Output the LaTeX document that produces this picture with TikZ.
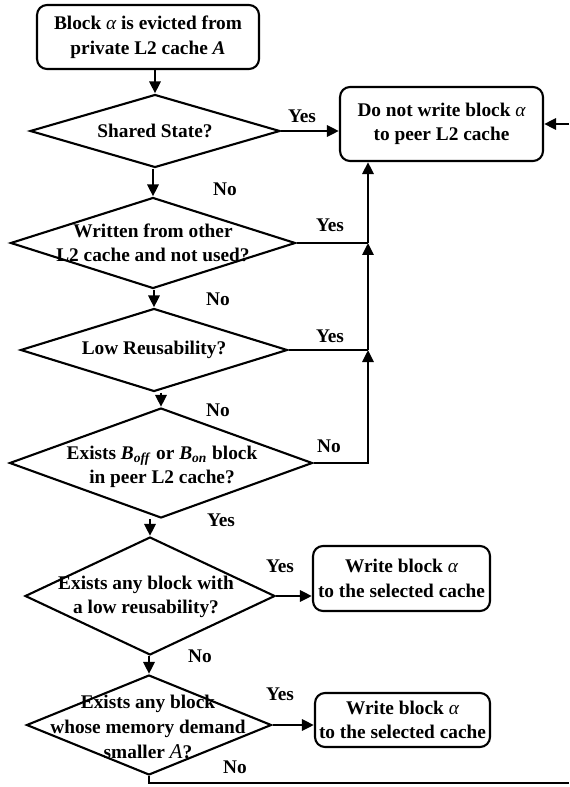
\documentclass[tikz,border=0pt]{standalone}
\usepackage{fontspec}
\setmainfont{Liberation Serif}
\usetikzlibrary{shapes.geometric,arrows.meta}

\newcommand\figfont{\fontsize{11}{14}\selectfont\bfseries}
\newcommand\blk{{\mdseries\itshape α}}

\tikzset{process/.style={draw,rounded corners=0.2cm,line width=1.2pt,font=\figfont,align=center,inner sep=0.05cm},
decision/.style={draw,diamond,line width=1.2pt,inner sep=0cm},
question/.style={font=\figfont,align=center,inner sep=0.03cm},
branch/.style={font=\figfont,inner sep=0.03cm},
flow/.style={line width=1.6pt,-{Triangle[length=0.24cm,width=0.22cm]}},
plain/.style={line width=1.6pt}}

\begin{document}
\begin{tikzpicture}[x=0.02cm,y=-0.02cm]
\useasboundingbox (0,0) rectangle (569,787);

%% Coordinates of bus and edge points.
\coordinate (j2) at (368,243);
\coordinate (j3) at (368,350);
\coordinate (j4) at (368,463);
\coordinate (inR) at (569,124);
\coordinate (outR) at (569,783);

%% boxes
\node [process,minimum width=4.44cm,minimum height=1.28cm] (start) at (148,37) {Block \blk{} is evicted from\\private L2 cache \textit{A}};
\node [process,minimum width=4.06cm,minimum height=1.48cm] (keep) at (441.5,124) {Do not write block \blk\\to peer L2 cache};
\node [process,minimum width=3.54cm,minimum height=1.3cm] (write1) at (401.5,578.5) {Write block \blk\\to the selected cache};
\node [process,minimum width=3.5cm,minimum height=1.08cm] (write2) at (402.5,720) {Write block \blk\\to the selected cache};

%% decisions
\node [decision,minimum width=5cm,minimum height=1.46cm] (d1) at (155,131) {};
\node [decision,minimum width=5.7cm,minimum height=1.82cm] (d2) at (153,243) {};
\node [decision,minimum width=5.34cm,minimum height=1.66cm] (d3) at (154,350) {};
\node [decision,minimum width=6.06cm,minimum height=2.2cm] (d4) at (161,463) {};
\node [decision,minimum width=5cm,minimum height=2.36cm] (d5) at (150,596) {};
\node [decision,minimum width=4.9cm,minimum height=2cm] (d6) at (149,725) {};

%% decision texts
\node [question] (q1) at (d1) {Shared State?};
\node [question] (q2) at (d2) {Written from other\\L2 cache and not used?};
\node [question] (q3) at (d3) {Low Reusability?};
\node [question] (q4) at (162,467) {Exists \textit{B}\textsubscript{\textit{off}} or \textit{B}\textsubscript{\textit{on}} block\\in peer L2 cache?};
\node [question] (q5) at (146,597) {Exists any block with\\a low reusability?};
\node [question] (q6) at (148,727) {Exists any block\\whose memory demand\\smaller {\large\mdseries\itshape A}?};

%% vertical lines
\draw [flow] (d1.north |- start.south) -- (d1.north);
\draw [flow] (d2.north |- d1.south) -- (d2.north);
\draw [flow] (d3.north |- d2.south) -- (d3.north);
\draw [flow] (d4.north |- d3.south) -- (d4.north);
\draw [flow] (d5.north |- d4.south) -- (d5.north);
\draw [flow] (d6.north |- d5.south) -- (d6.north);

%% horizontal lines
\draw [flow] (d1.east) -- (d1.east -| keep.west);
\draw [flow] (inR) -- (keep.east);
\draw [plain] (d2.east) -- (j2);
\draw [plain] (d3.east) -- (j3);
\draw [flow] (d4.east) -- (j4) -- (j3);
\draw [flow] (j3) -- (j2);
\draw [flow] (j2) -- (j2 |- keep.south);
\draw [flow] (d5.east) -- (d5.east -| write1.west);
\draw [flow] (d6.east) -- (d6.east -| write2.west);
\draw [plain] (d6.south) |- (outR);

%% branch labels
\node [branch] (y1) at (302,116) {Yes};
\node [branch] (n1) at (225,189) {No};
\node [branch] (y2) at (330,225) {Yes};
\node [branch] (n2) at (218,299) {No};
\node [branch] (y3) at (330,336) {Yes};
\node [branch] (n3) at (218,410) {No};
\node [branch] (n4) at (329,446) {No};
\node [branch] (y4) at (221,520) {Yes};
\node [branch] (y5) at (280,566) {Yes};
\node [branch] (n5) at (200,656) {No};
\node [branch] (y6) at (280,694) {Yes};
\node [branch] (n6) at (235,767) {No};

\end{tikzpicture}
\end{document}
